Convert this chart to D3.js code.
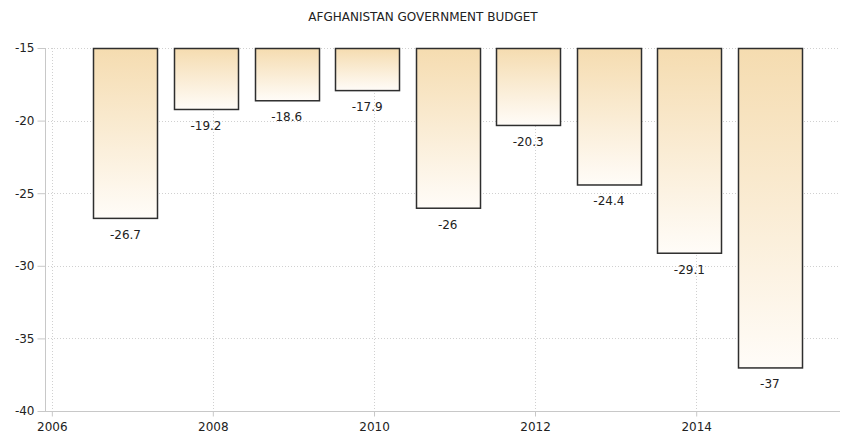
<!DOCTYPE html>
<html>
<head>
<meta charset="utf-8">
<script src="https://cdn.jsdelivr.net/npm/d3@7"></script>
<style>
  body { margin: 0; background: #fff; }
  svg { display: block; font-family: "DejaVu Sans", sans-serif; }
</style>
</head>
<body>
<svg width="841" height="436"></svg>
<script>
var title = 'AFGHANISTAN GOVERNMENT BUDGET';
var years = [2006, 2007, 2008, 2009, 2010, 2011, 2012, 2013, 2014];
var values = [-26.7, -19.2, -18.6, -17.9, -26, -20.3, -24.4, -29.1, -37];
var yTicks = [-15, -20, -25, -30, -35, -40];

var svg = d3.select('svg');
var plotLeft = 45, plotRight = 840, plotTop = 48, plotBottom = 411;

// bars are dated at the start of december
var dates = years.map(function(y) { return new Date(y, 11, 1); });

var x = d3.scaleTime()
    .domain([new Date(2005, 11, 1), new Date(2015, 9, 15)])
    .range([plotLeft, plotRight]);

var y = d3.scaleLinear()
    .domain([-15, -40])
    .range([plotTop, plotBottom]);

var grad = svg.append('defs').append('linearGradient')
    .attr('id', 'barfill')
    .attr('x1', 0).attr('y1', 0).attr('x2', 0).attr('y2', 1);
grad.append('stop').attr('offset', '0%').attr('stop-color', '#f5dcb0');
grad.append('stop').attr('offset', '100%').attr('stop-color', '#fffcf8');

svg.append('text')
    .attr('x', 423).attr('y', 21)
    .attr('text-anchor', 'middle')
    .attr('font-size', 12)
    .attr('fill', '#222')
    .text(title);

// grid
svg.append('g').selectAll('line')
    .data(yTicks)
    .enter().append('line')
    .attr('x1', plotLeft).attr('x2', plotRight)
    .attr('y1', function(d) { return Math.round(y(d)) + 0.5; })
    .attr('y2', function(d) { return Math.round(y(d)) + 0.5; })
    .attr('stroke', '#d0d0d0')
    .attr('stroke-dasharray', '1,2');

var xTicks = x.ticks(d3.timeYear.every(2));
svg.append('g').selectAll('line')
    .data(xTicks)
    .enter().append('line')
    .attr('x1', function(d) { return Math.round(x(d)) + 0.5; })
    .attr('x2', function(d) { return Math.round(x(d)) + 0.5; })
    .attr('y1', plotTop).attr('y2', plotBottom)
    .attr('stroke', '#d0d0d0')
    .attr('stroke-dasharray', '1,2');

// y axis (plain hyphen minus like the original)
var yAxis = svg.append('g')
    .attr('transform', 'translate(' + (plotLeft + 0.5) + ',0)')
    .call(d3.axisLeft(y).tickValues(yTicks).tickFormat(function(d) { return String(d); })
        .tickSize(8).tickPadding(3));
yAxis.select('.domain').attr('stroke', '#c8c8c8').attr('d', 'M0,' + plotTop + 'V' + (plotBottom + 0.5));
yAxis.selectAll('.tick line').attr('stroke', '#c8c8c8');
yAxis.selectAll('.tick text')
    .attr('font-family', '"DejaVu Sans", sans-serif')
    .attr('font-size', 12).attr('fill', '#222');

// x axis
var xAxis = svg.append('g')
    .attr('transform', 'translate(0,' + (plotBottom + 0.5) + ')')
    .call(d3.axisBottom(x).tickValues(xTicks).tickFormat(d3.timeFormat('%Y')).tickSize(5).tickPadding(6));
xAxis.select('.domain').attr('stroke', '#c8c8c8').attr('d', 'M' + plotLeft + ',0H' + plotRight);
xAxis.selectAll('.tick line').attr('stroke', '#c8c8c8');
xAxis.selectAll('.tick text')
    .attr('font-family', '"DejaVu Sans", sans-serif')
    .attr('font-size', 12).attr('fill', '#222');

// bars
var barWidth = 64;
var bars = svg.append('g').selectAll('g')
    .data(values)
    .enter().append('g');

bars.append('rect')
    .attr('x', function(d, i) { return Math.round(x(dates[i]) - barWidth / 2) + 0.5; })
    .attr('y', y(-15) + 0.5)
    .attr('width', barWidth)
    .attr('height', function(d) { return y(d) - y(-15); })
    .attr('fill', 'url(#barfill)')
    .attr('stroke', '#2e2e2e')
    .attr('stroke-width', 1.5);

bars.append('text')
    .attr('x', function(d, i) { return x(dates[i]); })
    .attr('y', function(d) { return y(d) + 21; })
    .attr('text-anchor', 'middle')
    .attr('font-size', 12)
    .attr('fill', '#222')
    .text(function(d) { return d; });
</script>
</body>
</html>
